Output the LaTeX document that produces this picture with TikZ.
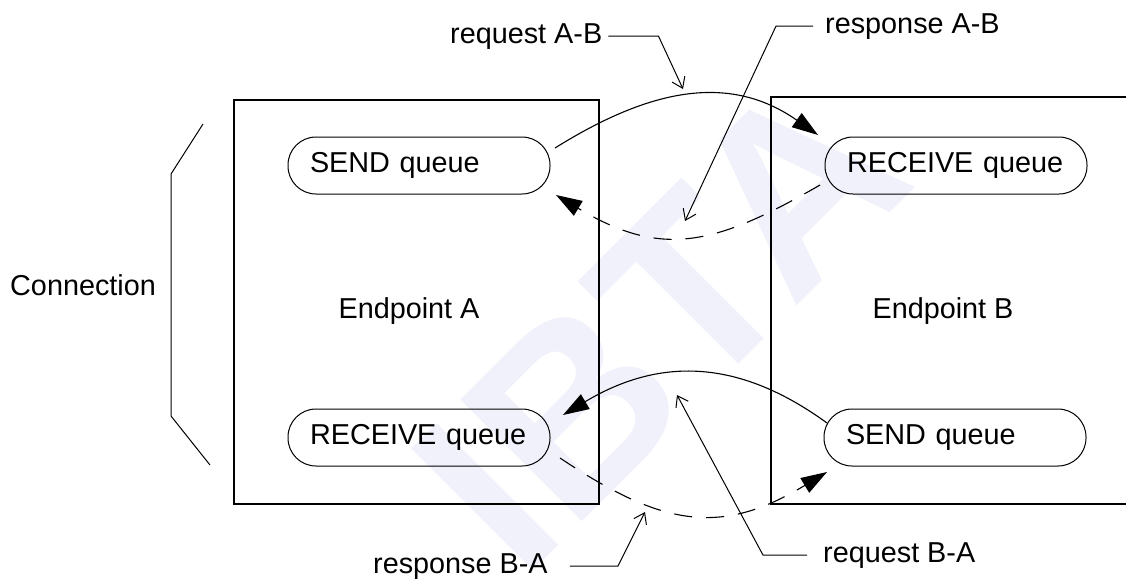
\documentclass[tikz,border=0pt]{standalone}
\usepackage{fontspec}
\setmainfont{Liberation Sans}
\usetikzlibrary{arrows.meta}
\definecolor{wm}{RGB}{241,241,252}
\begin{document}
\begin{tikzpicture}[x=1pt,y=-1pt,
  lbl/.style={font=\fontsize{28.8}{34}\selectfont, inner sep=0pt},
  pill/.style={draw, line width=1pt, rounded corners=28pt, minimum height=57pt,
    text width=218pt, inner xsep=22pt, inner ysep=0pt, align=left,
    font=\fontsize{28.8}{34}\selectfont},
  endbox/.style={line width=2pt},
  flow/.style={line width=1.1pt, -{Triangle[length=26pt,width=17pt]}},
  dflow/.style={flow, dash pattern=on 18pt off 14pt},
  lead/.style={line width=1pt, -{Straight Barb[length=10pt,width=14pt]}}]
\useasboundingbox (0,0) rectangle (1126,582);
% watermark
\node[rotate=45, text=wm, inner sep=0pt,
  font=\fontsize{250}{250}\selectfont\bfseries] (wmark) at (660,322) {IBTA};
% endpoints
\draw[endbox] (234,100) rectangle (599,504);
\draw[endbox] (1126,97) -- (771,97) -- (771,504) -- (1126,504);
\node[lbl, anchor=base] (epA) at (409,318) {Endpoint A};
\node[lbl, anchor=base] (epB) at (943,318) {Endpoint B};
% queues
\node[pill] (sendA) at (419,165.5) {SEND queue};
\node[pill] (recvB) at (956,165.5) {RECEIVE queue};
\node[pill] (recvA) at (419,437.5) {RECEIVE queue};
\node[pill] (sendB) at (955,437.5) {SEND queue};
% connection bracket
\node[lbl, anchor=base west] (conn) at (10,295) {Connection};
\draw[line width=1pt] (203,124) -- (171,174) -- (171,416) -- (210,465);
% arc end points
\coordinate (a1s) at (555,148);  \coordinate (a1e) at (818,135);
\coordinate (a2s) at (820,185);  \coordinate (a2e) at (556,195);
\coordinate (a3s) at (827,423);  \coordinate (a3e) at (563,415);
\coordinate (a4s) at (560,458);  \coordinate (a4e) at (827,472);
\draw[flow]  (a1s) .. controls (648,90) and (728,72) .. (a1e);
\draw[dflow] (a2s) .. controls (713.5,246.5) and (661,258) .. (a2e);
\draw[flow]  (a3s) .. controls (737,357.5) and (658,358) .. (a3e);
\draw[dflow] (a4s) .. controls (663,527) and (721,536) .. (a4e);
% labels with leaders
\node[lbl, anchor=base west] (reqAB) at (450,43) {request A-B};
\node[lbl, anchor=base west] (respAB) at (825,33) {response A-B};
\node[lbl, anchor=base west] (reqBA) at (823,562) {request B-A};
\node[lbl, anchor=base west] (respBA) at (373,573) {response B-A};
\coordinate (tReqAB) at (683,89);
\coordinate (tRespAB) at (685,221);
\coordinate (tReqBA) at (677,395);
\coordinate (tRespBA) at (645,512);
\draw[lead] ([xshift=6pt]reqAB.east) -- ([xshift=56pt]reqAB.east) -- (tReqAB);
\draw[lead] ([xshift=-12pt]respAB.west) -- ([xshift=-49pt]respAB.west) -- (tRespAB);
\draw[lead] ([xshift=-16pt]reqBA.west) -- ([xshift=-60pt]reqBA.west) -- (tReqBA);
\draw[lead] ([xshift=22pt]respBA.east) -- ([xshift=70pt]respBA.east) -- (tRespBA);
\end{tikzpicture}
\end{document}
